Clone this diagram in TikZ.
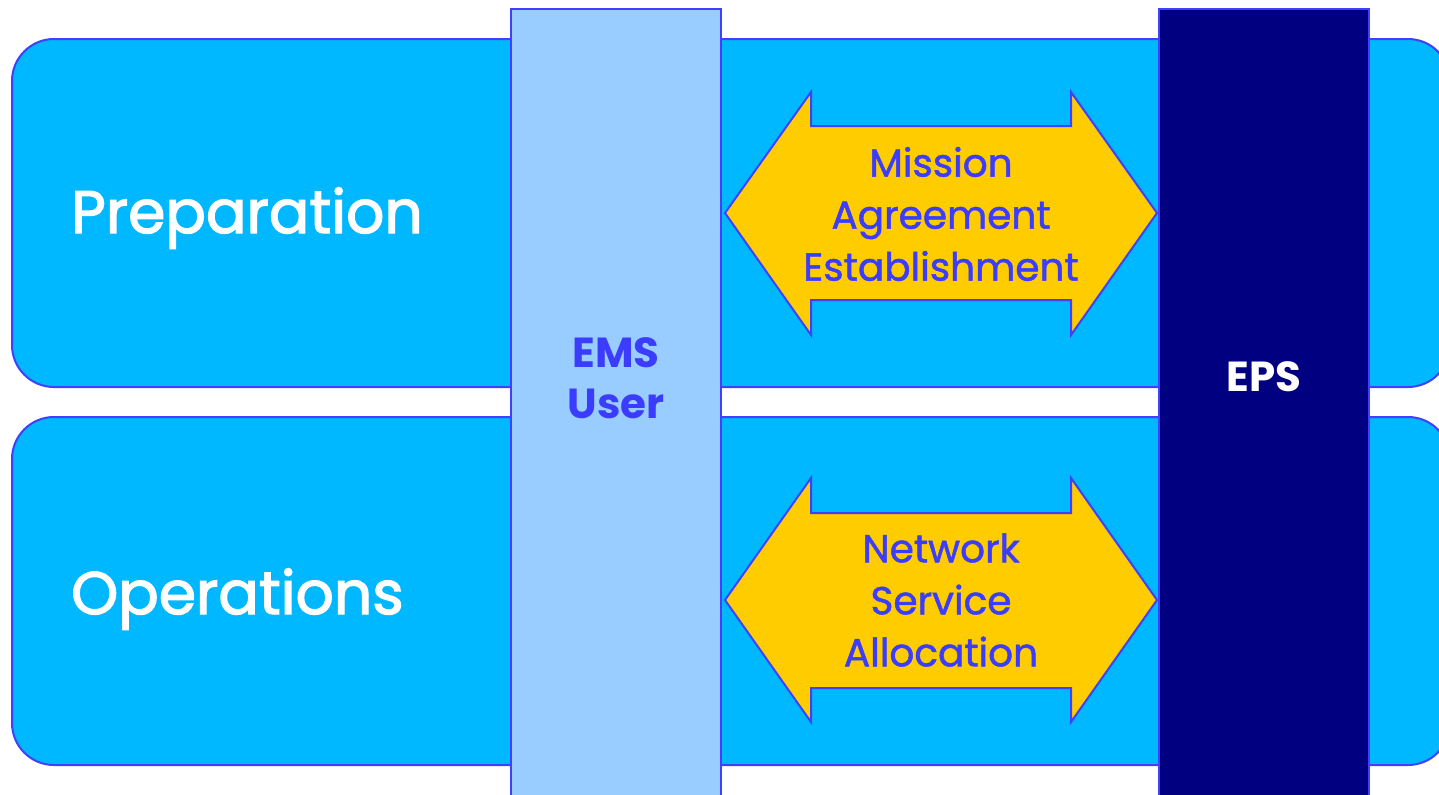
\documentclass[tikz,border=0pt]{standalone}
\usepackage{fontspec}
\setmainfont{Poppins}
\newfontfamily\lanefont{Poppins}[FakeBold=2.2]
\newfontfamily\arrowfont{Poppins}[FakeBold=1.3]
\definecolor{lanefill}{RGB}{0,184,255}
\definecolor{edgeblue}{RGB}{64,64,255}
\definecolor{emsfill}{RGB}{153,204,255}
\definecolor{epsfill}{RGB}{0,0,128}
\definecolor{arrowfill}{RGB}{255,204,0}
\definecolor{textblue}{RGB}{60,60,255}
\begin{document}
\begin{tikzpicture}[x=0.5pt,y=-0.5pt,
  lane/.style={draw=edgeblue,fill=lanefill,line width=1pt,rounded corners=21pt},
  column/.style={draw=edgeblue,line width=1pt},
  dblarrow/.style={draw=edgeblue,fill=arrowfill,line width=1pt,line join=miter},
  lanetext/.style={text=white,anchor=west,font=\lanefont\fontsize{30}{36}\selectfont},
  arrowtext/.style={text=textblue,align=center,font=\arrowfont\fontsize{19.5}{26}\selectfont},
  coltext/.style={align=center,font=\bfseries\fontsize{21}{25.5}\selectfont}]
\useasboundingbox (0,0) rectangle (1439,794);
\begin{scope}
\clip (0,0) rectangle (1439,794);
% lanes
\draw[lane] (12,39) rectangle (1450,387);
\draw[lane] (12,417) rectangle (1450,765);
% columns
\draw[column,fill=emsfill] (511,9) rectangle (721,810);
\draw[column,fill=epsfill] (1159,9) rectangle (1369,810);
% arrows
\draw[dblarrow] (725,213) -- (811,92) -- (811,126) -- (1071,126) -- (1071,92) -- (1157,213)
  -- (1071,335) -- (1071,300) -- (811,300) -- (811,335) -- cycle;
\draw[dblarrow] (725,600) -- (811,478) -- (811,513) -- (1071,513) -- (1071,478) -- (1157,600)
  -- (1071,722) -- (1071,688) -- (811,688) -- (811,722) -- cycle;
\end{scope}
% texts
\node[lanetext] (prep) at (64,218) {Preparation};
\node[lanetext] (ops) at (64,599) {Operations};
\node[coltext,text=textblue] (ems) at (616,378) {EMS\\User};
\node[coltext,text=white] (eps) at (1264,377) {EPS};
\node[arrowtext] (mae) at (941,214) {Mission\\Agreement\\Establishment};
\node[arrowtext] (nsa) at (941,600) {Network\\Service\\Allocation};
\end{tikzpicture}
\end{document}
